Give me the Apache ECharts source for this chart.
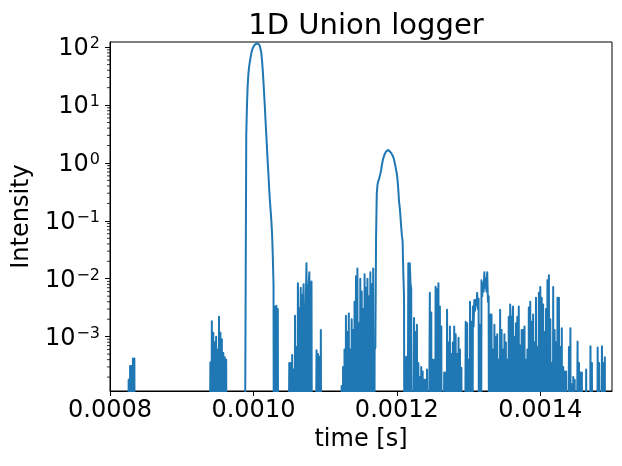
<!DOCTYPE html>
<html>
<head>
<meta charset="utf-8">
<script src="https://cdn.jsdelivr.net/npm/echarts@6/dist/echarts.min.js"></script>
<style>
html,body{margin:0;padding:0;background:#fff;}
#chart{width:622px;height:466px;}
</style>
</head>
<body>
<div id="chart"></div>
<script>
// Histogram bins of the 1D Union logger: first bin time and bin width [s]
var timeStart = 0.0008;
var binWidth = 0.000001;

// Intensity per bin, in chunks of 100 bins
var intensityA = [ // 0.000800 - 0.000899
  0,0,0,0,0,0,0,0,0,0,
  0,0,0,0,0,0,0,0,0,0,
  0,0,0,0,0,0,1.8e-4,0,3.1e-4,0,
  3.1e-4,0,4.2e-4,0,4.2e-4,0,0,0,0,0,
  0,0,0,0,0,0,0,0,0,0,
  0,0,0,0,0,0,0,0,0,0,
  0,0,0,0,0,0,0,0,0,0,
  0,0,0,0,0,0,0,0,0,0,
  0,0,0,0,0,0,0,0,0,0,
  0,0,0,0,0,0,0,0,0,0
];
var intensityB = [ // 0.000900 - 0.000999
  0,0,0,0,0,0,0,0,0,0,
  0,0,0,0,0,0,0,0,0,0,
  0,0,0,0,0,0,0,0,0,0,
  0,0,0,0,0,0,0,0,0,0,
  3.6e-4,0,1.85e-3,0,1.17e-3,0,8e-4,0,1e-3,0,
  6e-4,0,2.2e-3,0,1.17e-3,0,9e-4,0,5.2e-4,0,
  4.4e-4,0,4e-4,0,0,0,0,0,0,0,
  0,0,0,0,0,0,0,0,0,0,
  0,0,0,0,0,0,0,0,0,0,
  3,10,22,35,46,56,66,78,88,96
];
var intensityC = [ // 0.001000 - 0.001099
  102,107,111,114,116,117,117,115,111,105,
  97,80,58,40,25,15,9,5,3,1.7,
  1.0,0.6,0.35,0.22,0.15,0.1,0.06,0.025,0.008,0,
  3.3e-3,0,3.4e-3,0,3e-3,0,0,0,0,0,
  0,0,0,0,0,0,0,0,0,0,
  3.5e-4,0,3.5e-4,0,4.8e-4,0,2.7e-4,0,2.3e-3,0,
  6.6e-4,0,8.4e-3,1e-3,3.1e-3,0,7e-3,0,5.2e-3,3e-3,
  8e-3,0,1.3e-3,4e-3,0.0186,0,6e-3,8e-3,0.013,0,
  5.6e-3,0.009,0,0,0,0,0,0,5.8e-4,0,
  5e-4,0,4.5e-4,0,1.3e-3,0,0,0,0,0
];
var intensityD = [ // 0.001100 - 0.001199
  0,0,0,0,0,0,0,0,0,0,
  0,0,0,0,0,0,0,0,0,0,
  0,0,0,1.4e-4,0,3e-4,0,6e-4,0,2.3e-3,
  0,1.2e-3,0,2.5e-3,0,6e-4,0,2e-3,0,1.3e-3,
  0,4e-3,0,0.011,0,0.015,0,1.7e-3,0,0.010,
  0,6e-3,0,3e-3,0,0.012,0,7e-3,0,0.010,
  0,5e-3,0,0.013,0,8e-3,0,0.015,0,6e-4,
  6.5e-4,0.05,0.3,0.42,0.48,0.52,0.58,0.65,0.75,0.9,
  1.05,1.2,1.3,1.42,1.5,1.58,1.65,1.6,1.68,1.62,
  1.58,1.55,1.5,1.42,1.35,1.27,1.15,1.0,0.88,0.75
];
var intensityE = [ // 0.001200 - 0.001299
  0.65,0.5,0.35,0.22,0.17,0.12,0.08,0.056,0.045,0.0125,
  0.005,0,0,4.5e-4,0,0,0.0185,0,0.0186,0.0084,
  0.0066,0,0,0,0.0021,0,0.0012,0,0.0016,0,
  3.5e-4,0,2e-4,0,3e-4,0,2.5e-4,0,1.8e-4,0,
  1.8e-4,0,2.7e-4,0,0,0,0.0057,0,0.0026,0,
  4e-4,0,4e-4,0,0.0073,0,0.0066,0.002,0.0084,0,
  0.0033,0,0.0015,0,0,0,2.4e-4,0,2.4e-4,0,
  0.0029,0,7.9e-4,0,0.0015,0,5e-4,0,7.9e-4,0,
  0.0015,0,0.0011,0,5e-4,0,9.6e-4,0,6e-4,0,
  2.9e-4,0,0,0,0,0,0.0018,0,0.0017,0
];
var intensityF = [ // 0.001300 - 0.001399
  4e-4,0,0.0040,0,0.0018,0,0.0033,0.0015,0.0043,0.0028,
  0.0043,0.0035,0.0057,0.003,0.0045,0,0.0016,0,0.0094,0.005,
  0.0084,0.006,0.0129,0.007,0.0100,0.006,0.0129,0.004,0.0050,0,
  0.0024,0,0.0024,0,6e-4,0,0.0016,0,0.0010,0,
  0.0011,0,4e-4,0,0.0029,0,0.0013,0,6e-4,0,
  0.0011,0,7.9e-4,0,4e-4,0,0.0022,0,0.0036,0.0015,
  0.0022,0,0.0033,0,0.001,0,0.0017,0,0.0022,0,
  0.0033,0,7e-4,0,0.0013,0,0.0013,0,0.0015,0,
  4e-4,0,6e-4,0,0.0032,0,0.0040,0,0.0018,0,
  0.0024,0,8e-4,0,0.0047,0,6.6e-4,0,0.0057,0.002
];
var intensityG = [ // 0.001400 - 0.001500
  0.0072,0,0.0047,0,0.0036,0,0.0012,0,0.0030,0,
  0.0094,0.004,0.0115,0,0.0020,0,3.5e-4,0,0.0072,0,
  0.0013,0,8e-4,0,0.0047,0,0.0047,0,6.6e-4,0,
  0.0014,0,3e-4,0,2.5e-4,0,2.5e-4,0,0,0,
  6.6e-4,0,0.0014,0,1.5e-4,0,2e-4,0,1.8e-4,0,
  0,0,8.2e-4,0,3.5e-4,0,2.4e-4,0,2.4e-4,0,
  0,0,0,0,2.7e-4,0,0,0,0,0,
  6.8e-4,0,3.5e-4,0,0,0,0,0,0,0,
  6.5e-4,0,3.5e-4,0,0,0,6.8e-4,0,3.5e-4,0,
  4.4e-4,0,0,0,0,0,0,0,0,0,0
];

// Axis settings
var xMin = 0.0008, xMax = 0.0015, xInterval = 0.0002;
var yMin = 1.15e-4, yMax = 123;
var yDecades = [-4, -3, -2, -1, 0, 1];

var intensity = [].concat(intensityA, intensityB, intensityC, intensityD, intensityE, intensityF, intensityG);
// empty bins are pushed far below the log axis (drawn as drops to the bottom, as matplotlib does)
var seriesData = intensity.map(function (v, i) {
  return [timeStart + i * binWidth, v > 0 ? v : 1e-9];
});

var minorTicks = [];
yDecades.forEach(function (d) {
  for (var m = 2; m <= 9; m++) {
    var v = m * Math.pow(10, d);
    if (v > yMin && v < yMax) minorTicks.push([xMin, v]);
  }
});

var FONT = 'DejaVu Sans';

var chart = echarts.init(document.getElementById('chart'), null, {renderer: 'canvas'});
chart.setOption({
  animation: false,
  backgroundColor: '#fff',
  title: {
    text: '1D Union logger',
    left: 361, top: 7, textAlign: 'center',
    textStyle: {fontFamily: FONT, fontSize: 29, fontWeight: 'normal', color: '#000'}
  },
  grid: {left: 110, right: 10, top: 42, bottom: 75, show: true, borderColor: '#000', borderWidth: 1, containLabel: false},
  xAxis: {
    type: 'value', min: xMin, max: xMax, interval: xInterval,
    name: 'time [s]', nameLocation: 'middle', nameGap: 37,
    nameTextStyle: {fontFamily: FONT, fontSize: 24, color: '#000'},
    axisLine: {show: true, lineStyle: {color: '#000', width: 1}},
    axisTick: {show: true, length: 5, lineStyle: {color: '#000', width: 1}},
    splitLine: {show: false},
    axisLabel: {
      fontFamily: FONT, fontSize: 24, color: '#000', margin: 8, showMaxLabel: false,
      formatter: function (v) {
        var k = v / xInterval;
        if (Math.abs(k - Math.round(k)) > 1e-6) return '';
        return v.toFixed(4);
      }
    }
  },
  yAxis: {
    type: 'log', logBase: 10, min: yMin, max: yMax,
    name: 'Intensity', nameLocation: 'middle', nameGap: 70,
    nameTextStyle: {fontFamily: FONT, fontSize: 24, color: '#000'},
    axisLine: {show: true, lineStyle: {color: '#000', width: 1}},
    axisTick: {show: true, length: 5, lineStyle: {color: '#000', width: 1}},
    splitLine: {show: false},
    minorTick: {show: false},
    axisLabel: {
      margin: 10, showMinLabel: false, showMaxLabel: false,
      formatter: function (v) {
        var e = Math.log10(v), r = Math.round(e);
        if (Math.abs(e - r) > 1e-6) return '';
        var s = String(r).replace('-', '\u2212');
        return '{b|10}{s|' + s + '}';
      },
      rich: {
        b: {fontFamily: FONT, fontSize: 24, color: '#000', lineHeight: 28, verticalAlign: 'bottom', padding: [4, 0, 0, 0]},
        s: {fontFamily: FONT, fontSize: 16, color: '#000', lineHeight: 16, verticalAlign: 'top', padding: [3, 0, 0, 1]}
      }
    }
  },
  series: [
    {
      type: 'line',
      data: seriesData,
      showSymbol: false,
      symbol: 'none',
      sampling: null,
      clip: true,
      lineStyle: {color: '#1f77b4', width: 2, join: 'round'},
      itemStyle: {color: '#1f77b4'}
    },
    {
      type: 'custom',
      data: minorTicks,
      silent: true,
      clip: false,
      renderItem: function (params, api) {
        var p = api.coord([api.value(0), api.value(1)]);
        return {
          type: 'line',
          shape: {x1: p[0] - 3, y1: p[1], x2: p[0], y2: p[1]},
          style: {stroke: '#000', lineWidth: 0.8}
        };
      }
    }
  ]
});
</script>
</body>
</html>
